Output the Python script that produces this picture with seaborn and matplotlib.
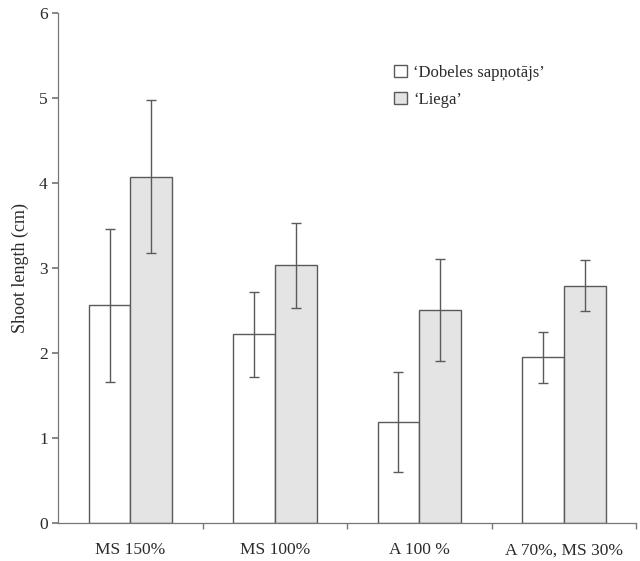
import pandas as pd
import numpy as np
import matplotlib.pyplot as plt
import seaborn as sns

sns.set_theme(style='white')
plt.rcParams['font.family'] = ['Liberation Serif', 'DejaVu Serif']

# data
treatments = ['MS 150%', 'MS 100%', 'A 100 %', 'A 70%, MS 30%']
cultivars = ['\u2018Dobeles sapņotājs\u2019', '\u2018Liega\u2019']
dobeles = [2.56, 2.22, 1.19, 1.95]
dobeles_err = [0.90, 0.50, 0.59, 0.30]
liega = [4.07, 3.03, 2.51, 2.79]
liega_err = [0.90, 0.50, 0.60, 0.30]

df = pd.DataFrame({
    'treatment': treatments * 2,
    'cultivar': [cultivars[0]] * 4 + [cultivars[1]] * 4,
    'length': dobeles + liega,
    'err': dobeles_err + liega_err,
})

txt = '#2b2b2b'
line = '#5a5a5a'

fig, ax = plt.subplots(figsize=(6.4, 5.61), dpi=100)
fig.subplots_adjust(left=0.091, right=0.994, bottom=0.068, top=0.977)

sns.barplot(data=df, x='treatment', y='length', hue='cultivar',
            palette=['white', '#e4e4e4'], edgecolor=line, linewidth=1.0,
            width=0.58, errorbar=None, ax=ax, legend=True)

# error bars at bar centres
bars = [p for p in ax.patches if p.get_height() > 0][:8]
for p, v, e in zip(bars, df['length'], df['err']):
    ax.errorbar(p.get_x() + p.get_width() / 2, v, yerr=e, fmt='none',
                ecolor=line, elinewidth=1.0, capsize=3.5, capthick=1.0)

ax.set_ylim(0, 6)
ax.set_xlim(-0.5, 3.5)
ax.set_yticks(range(7))
ax.set_ylabel('Shoot length (cm)', fontsize=13, color=txt, labelpad=7)
ax.set_xlabel('')
sns.despine(ax=ax)
for s in ['left', 'bottom']:
    ax.spines[s].set_color('#777777')
    ax.spines[s].set_linewidth(0.9)

ax.tick_params(axis='y', direction='out', length=4, color='#777777',
               labelsize=12.5, labelcolor=txt, left=True)
ax.tick_params(axis='x', which='major', length=0, pad=14,
               labelsize=12.5, labelcolor=txt)
ax.set_xticks([0.5, 1.5, 2.5, 3.5], minor=True)
ax.tick_params(axis='x', which='minor', direction='out', length=4,
               color='#777777', bottom=True)

leg = ax.legend(loc='upper left', bbox_to_anchor=(0.555, 0.928), frameon=False,
                fontsize=12, handlelength=0.8, handleheight=0.8,
                handletextpad=0.35, labelspacing=0.65)
for t in leg.get_texts():
    t.set_color(txt)

fig.savefig('out.png', dpi=100)
